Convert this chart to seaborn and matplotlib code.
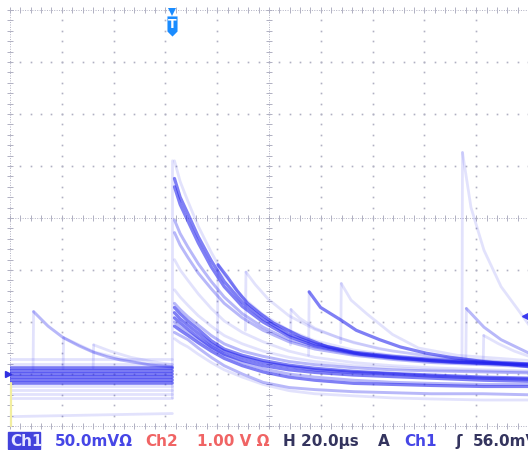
import numpy as np
import pandas as pd
import matplotlib
matplotlib.use("Agg")
import matplotlib.pyplot as plt
from matplotlib.path import Path
from matplotlib.patches import Rectangle
import seaborn as sns

# ---------------------------------------------------------------------------
# Ch1 persistence capture: 50 mV/div, 20 us/div, trigger on Ch1 rising @ 56 mV
# time in microseconds (0 = trigger), level in mV relative to Ch1 ground
# ---------------------------------------------------------------------------

# sample instants shared by the decays launched at the trigger
decay_t = [0.8, 3, 6, 10, 15, 20, 27, 35, 45, 55, 70, 85, 100, 120, 138]

# strong decays
trace_a1 = [188, 170, 154, 132, 109, 89, 69, 53, 38, 29, 21, 17, 14, 11.5, 9.6]
trace_a2 = [180, 163, 147, 126, 103, 84, 65, 50, 36, 27, 20, 16, 13, 10.5, 9]
trace_c1 = [64, 58, 51, 43, 32, 24, 18, 13, 8.5, 5.5, 2.5, 0.5, -1, -3, -4]
trace_c2 = [59, 53, 47, 39, 29, 22, 16, 11, 7, 4, 1.5, 0, -2, -4, -5]
trace_c3 = [54, 49, 43, 35, 26, 19, 13, 8, 4, 1.5, -1, -2.5, -4, -6, -7]
trace_d1 = [46, 42, 37, 30, 22, 15, 8, 2, -3, -6, -9, -10, -11, -12, -12]

# medium decays
trace_b1 = [148, 135, 122, 106, 89, 74, 58, 45, 33, 26, 19, 15, 12, 10, 8]
trace_b2 = [136, 124, 112, 97, 82, 68, 54, 42, 31, 24, 18, 14, 11, 9, 7]
trace_c4 = [68, 62, 55, 47, 37, 29, 22, 17, 12, 9, 6, 4, 3, 2, 1]
trace_d2 = [40, 37, 33, 25, 16, 8, 0, -8, -13, -15, -17, -18, -19, -19, -20]
trace_d4 = [50, 45, 40, 33, 25, 18, 11, 5, 0, -3, -6, -8, -9, -10, -10]

# faint decays
trace_s1 = [205, 185, 166, 142, 117, 95, 74, 57, 42, 32, 23, 18, 15, 12, 10]
trace_e1 = [110, 100, 90, 77, 63, 51, 40, 31, 22, 16, 11, 8, 6, 4, 3]
trace_f1 = [81, 74, 66, 56, 46, 37, 29, 22, 16, 12, 8, 6, 4, 3, 2]
trace_d3 = [34, 30, 26, 19, 11, 4, -3, -10, -16, -19, -21, -23, -24, -25, -25]

# later pulses riding on the tails (base before the step, then peak and decay)
pulse1_t = [17.4, 17.6, 21.3, 25, 29, 34, 39, 49.5, 60, 72.7, 88, 107.5, 137.3]
pulse1_v = [26, 105, 93, 80, 68, 58, 49, 36, 26, 19, 15, 11.5, 8.7]
pulse2_t = [28.2, 28.4, 32, 37, 45, 55, 70, 85, 100, 120, 137.3]
pulse2_v = [42, 98, 86, 72, 56, 43, 30, 22, 17, 13, 10]
pulse3_t = [45.6, 45.8, 49, 55, 65, 80, 100, 137.3]
pulse3_v = [28, 62, 54, 44, 34, 24, 17, 10]
pulse4_t = [52.6, 52.8, 57.2, 65, 71, 80, 88, 98, 107.5, 120, 137.7]
pulse4_v = [18, 79, 64, 52, 42, 33, 26, 20, 16, 12, 7]
pulse5_t = [65, 65.2, 69, 75, 85, 95, 110, 137.3]
pulse5_v = [30, 87, 71, 58, 38, 25, 18, 13]
pulse6_t = [111.8, 112, 115.3, 120.3, 126.9, 133.4, 137.7]
pulse6_v = [13, 213, 160, 119, 84, 62, 47]
pulse7_t = [113.3, 113.5, 120.3, 126.9, 137.7]
pulse7_v = [13, 63, 45, 33, 20]
pulse8_t = [120, 120.2, 126, 132, 137.7]
pulse8_v = [12, 37, 29, 22, 17]

# pulses before the trigger
pre1_t = [-53.8, -53.6, -48, -42.2, -36, -30.6, -25, -20.1, -14, -8.5, 0]
pre1_v = [3, 60, 46, 35, 27, 21, 16.5, 13.5, 11, 8.7, 6.7]
pre2_t = [-42.2, -42, -36, -30, -20, -10, 0]
pre2_v = [5, 35, 28, 21, 15, 10, 7]
pre3_t = [-30.6, -30.4, -24, -16, -8, 0]
pre3_v = [6, 28, 22, 16, 12, 9]

# pre-trigger baseline levels
baseline_core = [6, 3, 0, -3, -6, -9]
baseline_light = [14, 10, -12, -15, -19, -23]
baseline_low_t = [-62.7, 0]
baseline_low_v = [-41, -38]

# readout strip
readout = [
    ("Ch1", "#e6e6ff", 10),
    ("50.0mVΩ", "#4646e6", 55),
    ("Ch2", "#f06464", 145),
    ("1.00 V Ω", "#f06464", 197),
    ("H 20.0µs", "#34345e", 283),
    ("A", "#34345e", 378),
    ("Ch1", "#4646e6", 404),
    ("ʃ", "#34345e", 455),
    ("56.0mV", "#34345e", 473),
]
trigger_level_mv = 56

# ---------------------------------------------------------------------------
rows = []


def add(name, tier, ts, vs):
    for t, v in zip(ts, vs):
        rows.append({"trace": name, "tier": tier, "t": t, "mV": v})


decays = {
    "strong": {"a1": trace_a1, "a2": trace_a2, "c1": trace_c1, "c2": trace_c2,
               "c3": trace_c3, "d1": trace_d1},
    "medium": {"b1": trace_b1, "b2": trace_b2, "c4": trace_c4, "d2": trace_d2,
               "d4": trace_d4},
    "faint": {"s1": trace_s1, "e1": trace_e1, "f1": trace_f1, "d3": trace_d3},
}
peaks = []
for tier, group in decays.items():
    for name, vals in group.items():
        add(name, tier, decay_t, vals)
        peaks.append(vals[0])
# the step at the trigger instant, from the lowest baseline to the highest peak
add("step0", "faint", [0, 0.05], [min(baseline_light), max(peaks)])

pulses = [
    ("p1", "strong", pulse1_t, pulse1_v), ("p2", "faint", pulse2_t, pulse2_v),
    ("p3", "faint", pulse3_t, pulse3_v), ("p4", "strong", pulse4_t, pulse4_v),
    ("p5", "faint", pulse5_t, pulse5_v), ("p6", "faint", pulse6_t, pulse6_v),
    ("p7", "medium", pulse7_t, pulse7_v), ("p8", "faint", pulse8_t, pulse8_v),
    ("q1", "medium", pre1_t, pre1_v), ("q2", "faint", pre2_t, pre2_v),
    ("q3", "faint", pre3_t, pre3_v),
]
for name, tier, ts, vs in pulses:
    add(name + "_step", "faint", ts[:2], vs[:2])
    add(name, tier, ts[1:], vs[1:])

for i, lv in enumerate(baseline_core):
    add(f"bc{i}", "core", [-62.7, 0], [lv, lv])
for i, lv in enumerate(baseline_light):
    add(f"bl{i}", "faint", [-62.7, 0], [lv, lv])
add("blow", "faint", baseline_low_t, baseline_low_v)

df = pd.DataFrame(rows)

# ---------------------------------------------------------------------------
sns.set_style("white")
fig = plt.figure(figsize=(5.28, 4.5), dpi=100)
fig.patch.set_facecolor("white")
ax = fig.add_axes([10 / 528, 1 - 426 / 450, 518 / 528, 416 / 450])

x0, x1 = -62.7, 137.3
y0, y1 = -50, 350
ax.set_xlim(x0, x1)
ax.set_ylim(y0, y1)
ax.set_xticks([])
ax.set_yticks([])
for s in ax.spines.values():
    s.set_visible(False)

# graticule
GRID = "#b0b0c2"
minor_t = x0 + 4 * np.arange(51)
minor_v = y0 + 10 * np.arange(41)
for k in range(1, 10):
    if k == 5:
        continue
    ax.plot(np.full(minor_v.shape, x0 + 20 * k), minor_v, ls="none", marker="s",
            ms=1.2, mew=0, color=GRID, zorder=1)
for k in range(1, 8):
    if k == 4:
        continue
    ax.plot(minor_t, np.full(minor_t.shape, y0 + 50 * k), ls="none", marker="s",
            ms=1.2, mew=0, color=GRID, zorder=1)

tc, vc = x0 + 100, y0 + 200
for t_line in (tc, x0):
    ax.axvline(t_line, ls=(0, (1, 1.5)), lw=0.7, color=GRID, zorder=1, clip_on=False)
    ax.plot(np.full(minor_v.shape, t_line), minor_v, ls="none", marker="_", ms=5,
            mew=0.7, color=GRID, zorder=1, clip_on=False)
for v_line in (vc, y1, y0):
    ax.axhline(v_line, ls=(0, (1, 1.5)), lw=0.7, color=GRID, zorder=1, clip_on=False)
    ax.plot(minor_t, np.full(minor_t.shape, v_line), ls="none", marker="|", ms=5,
            mew=0.7, color=GRID, zorder=1, clip_on=False)

# traces
BLUE = "#2222ee"
styles = {
    "faint": dict(alpha=0.13, lw=2.0),
    "medium": dict(alpha=0.32, lw=2.1),
    "strong": dict(alpha=0.58, lw=2.3),
    "core": dict(alpha=0.6, lw=2.6),
}
for tier, st in styles.items():
    sub = df[df["tier"] == tier]
    sns.lineplot(data=sub, x="t", y="mV", units="trace", estimator=None, sort=False,
                 color=BLUE, alpha=st["alpha"], lw=st["lw"], ax=ax, legend=False,
                 zorder=2)
ax.set_xlabel("")
ax.set_ylabel("")

# ground reference, Ch2 strip and trigger level markers
ax.plot(x0 - 0.8, 0, marker=">", ms=5, color="#3030e0", clip_on=False, zorder=4)
ax.plot([x0 + 0.3, x0 + 0.3], [-9, y0], color="#f2eea0", lw=1.6, zorder=3,
        clip_on=False)
ax.plot(x1, trigger_level_mv, marker="<", ms=9, color="#3a3af0", clip_on=False,
        zorder=4)

# trigger position flag
shield = Path([(-0.5, 1), (0.5, 1), (0.5, -0.5), (0, -1), (-0.5, -0.5), (-0.5, 1)],
              [Path.MOVETO, Path.LINETO, Path.LINETO, Path.LINETO, Path.LINETO,
               Path.CLOSEPOLY])
ax.plot(0, 348.5, marker="v", ms=6, color="#1a8cff", mew=0, clip_on=False, zorder=5)
ax.plot(0, 335, marker=shield, ms=14.5, color="#1a8cff", mew=0, clip_on=False,
        zorder=5)
ax.text(0, 336.5, "T", color="white", fontsize=9, fontweight="bold", ha="center",
        va="center", zorder=6)

# readout strip
fig.patches.append(Rectangle((8 / 528, 1 - 449 / 450), 32 / 528, 17 / 450,
                             transform=fig.transFigure, color="#4242dc", zorder=0))
for txt, col, xpx in readout:
    fig.text(xpx / 528, 1 - 446 / 450, txt, color=col, fontsize=11,
             fontweight="bold", family="DejaVu Sans", ha="left", va="baseline")

fig.savefig("out.png", dpi=100, facecolor="white")
